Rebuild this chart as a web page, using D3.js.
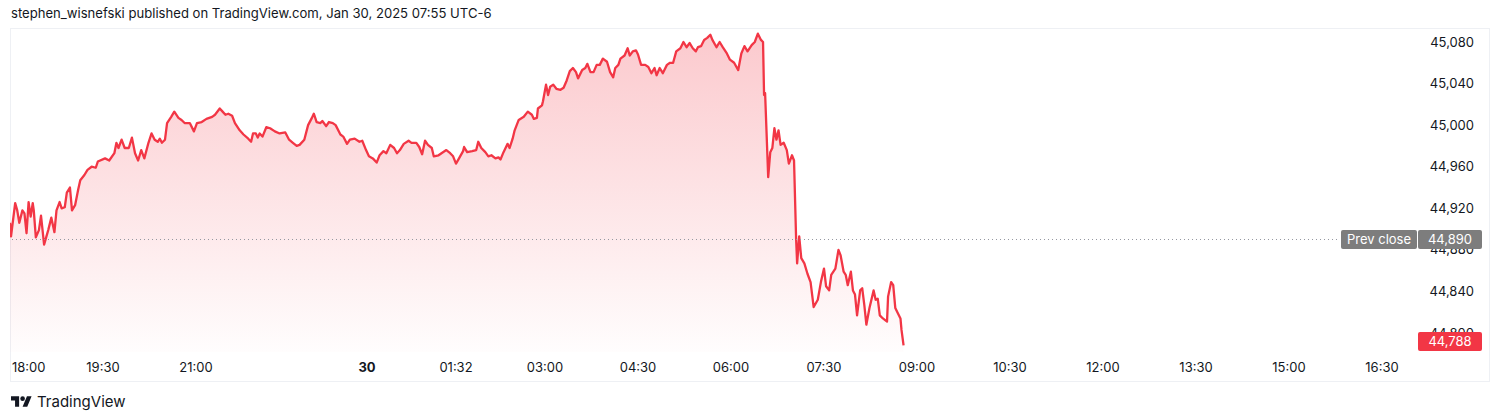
<!DOCTYPE html>
<html>
<head>
<meta charset="utf-8">
<script src="https://cdn.jsdelivr.net/npm/d3@7"></script>
<style>
  html, body { margin: 0; padding: 0; background: #ffffff; }
  svg { display: block; font-family: Inter, "Noto Sans", sans-serif; }
</style>
</head>
<body>
<svg id="chart" width="1500" height="420"></svg>
<script>
// ---- DATA ----
const headerText = "stephen_wisnefski published on TradingView.com, Jan 30, 2025 07:55 UTC-6";
// minutes since 18:00 (Jan 29)
const times = [
  0,1,5,7,9,12,14,16,18,20,
  22,23,25,28,30,33,35,37,40,43,
  45,48,50,53,55,58,60,63,66,68,
  72,75,79,83,85,92,96,101,103,105,
  108,111,115,118,121,124,127,130,134,137,
  140,143,145,147,150,152,156,159,163,166,
  169,174,178,181,186,191,197,200,205,208,
  211,214,218,221,226,230,235,238,240,243,
  245,247,250,254,258,263,268,274,278,282,
  286,289,294,298,302,304,307,311,313,317,
  320,324,327,332,335,339,342,347,352,355,
  359,362,366,370,373,377,380,384,388,391,
  394,398,403,406,411,414,417,420,423,427,
  429,434,437,442,446,449,452,455,459,460,
  463,468,472,474,477,481,484,487,491,494,
  496,499,503,505,508,510,514,519,523,527,
  529,532,533,537,538,541,543,545,548,551,
  555,558,561,564,567,570,572,576,579,581,
  584,587,590,593,596,600,603,606,608,611,
  613,617,620,622,625,628,630,633,637,640,
  643,646,648,651,654,658,661,664,667,671,
  674,677,680,683,686,688,691,694,697,700,
  702,706,709,712,716,719,723,727,730,733,
  736,740,743,746,749,751,752,753,756,758,
  760,762,764,766,768,771,774,776,779,781,
  783,784,786,788,791,794,797,800,804,807,
  810,812,815,817,821,824,826,829,831,833,
  836,838,840,842,845,847,849,851,854,858,
  860,862,864,867,871,872,875,877,879,881,
  884,885,887
];
const values = [
  44906,44893,44925,44918,44906,44918,44915,44896,44926,44912,
  44925,44918,44892,44899,44913,44885,44892,44899,44911,44897,
  44918,44926,44920,44921,44935,44940,44918,44923,44938,44947,
  44952,44957,44960,44959,44965,44968,44966,44973,44983,44978,
  44986,44978,44978,44988,44973,44966,44976,44968,44983,44992,
  44986,44984,44987,44983,44986,45002,45008,45013,45007,45005,
  45002,45002,44994,45002,45003,45006,45008,45010,45016,45013,
  45010,45011,45009,45002,44995,44991,44987,44984,44992,44992,
  44988,44992,44989,44998,44997,44994,44992,44993,44986,44983,
  44980,44981,44986,45000,45007,45011,45003,45002,45004,44999,
  45003,45002,45000,44991,44989,44982,44986,44987,44984,44985,
  44976,44970,44968,44964,44971,44975,44973,44981,44978,44973,
  44976,44982,44985,44983,44983,44979,44972,44985,44981,44978,
  44970,44971,44973,44976,44973,44970,44963,44968,44975,44979,
  44974,44975,44976,44984,44978,44974,44970,44971,44968,44969,
  44967,44974,44982,44978,44987,44995,45005,45008,45013,45010,
  45006,45007,45016,45019,45023,45039,45029,45037,45039,45035,
  45034,45036,45043,45052,45055,45051,45045,45053,45055,45059,
  45051,45051,45058,45058,45064,45061,45051,45046,45055,45058,
  45064,45067,45074,45067,45071,45072,45068,45058,45058,45056,
  45050,45055,45048,45055,45050,45058,45060,45060,45071,45074,
  45080,45075,45079,45074,45071,45075,45076,45082,45084,45087,
  45082,45075,45080,45075,45069,45063,45060,45053,45069,45076,
  45071,45077,45080,45088,45082,45080,45029,45031,44950,44974,
  44978,44997,44986,44995,44981,44983,44976,44963,44971,44966,
  44891,44867,44893,44872,44867,44857,44849,44825,44832,44849,
  44862,44845,44841,44856,44862,44880,44875,44859,44856,44846,
  44859,44841,44837,44817,44841,44843,44827,44808,44824,44841,
  44832,44833,44817,44814,44811,44835,44849,44846,44824,44820,
  44814,44803,44788
];
const xTickTimes = [0,90,180,360,452,540,630,720,810,900,990,1080,1170,1260,1350];
const xTickLabels = ["18:00","19:30","21:00","30","01:32","03:00","04:30","06:00","07:30","09:00","10:30","12:00","13:30","15:00","16:30"];
const boldTicks = ["30"];
const yTicks = [44800,44840,44880,44920,44960,45000,45040,45080];
const prevClose = 44890;
const prevCloseLabel = "Prev close";
const lastPrice = 44788;

// ---- LAYOUT ----
const svg = d3.select("#chart");
const plotLeft = 10, plotRight = 1415, plotTop = 29, plotBottom = 352;
const lineColor = "#f23645";
const textColor = "#131722";

const x = d3.scaleLinear()
  .domain([0, 90, 180, 360, 452, 540, 1380])
  .range([10, 103, 196, 367, 456, 545, 1413]);
const y = d3.scaleLinear().domain([44800, 45080]).range([333, 42]);
const fmt = d3.format(",");

// header
svg.append("text")
  .attr("x", 11).attr("y", 18)
  .attr("font-size", 13.1).attr("fill", textColor)
  .text(headerText);

// frame
svg.append("rect")
  .attr("x", 10.5).attr("y", 28.5).attr("width", 1479).attr("height", 353)
  .attr("fill", "none").attr("stroke", "#eef0f4").attr("stroke-width", 1);

// defs
const defs = svg.append("defs");
const grad = defs.append("linearGradient")
  .attr("id", "areaGrad").attr("gradientUnits", "userSpaceOnUse")
  .attr("x1", 0).attr("x2", 0).attr("y1", 30).attr("y2", plotBottom);
grad.append("stop").attr("offset", "0%").attr("stop-color", lineColor).attr("stop-opacity", 0.27);
grad.append("stop").attr("offset", "100%").attr("stop-color", lineColor).attr("stop-opacity", 0.01);
defs.append("clipPath").attr("id", "plotClip")
  .append("rect").attr("x", plotLeft).attr("y", plotTop)
  .attr("width", plotRight - plotLeft).attr("height", plotBottom - plotTop);

const data = times.map((t, i) => ({ t, v: values[i] }));

const g = svg.append("g").attr("clip-path", "url(#plotClip)");

g.append("path")
  .datum(data)
  .attr("fill", "url(#areaGrad)")
  .attr("d", d3.area().x(d => x(d.t)).y0(plotBottom).y1(d => y(d.v)));

// prev close dotted line
svg.append("line")
  .attr("x1", plotLeft + 2).attr("x2", 1340)
  .attr("y1", Math.round(y(prevClose)) + 0.5).attr("y2", Math.round(y(prevClose)) + 0.5)
  .attr("stroke", "#9598a1").attr("stroke-width", 1)
  .attr("stroke-dasharray", "1 3");

g.append("path")
  .datum(data)
  .attr("fill", "none")
  .attr("stroke", lineColor)
  .attr("stroke-width", 2.3)
  .attr("stroke-linejoin", "round")
  .attr("d", d3.line().x(d => x(d.t)).y(d => y(d.v)));

// y axis labels
svg.append("g").selectAll("text")
  .data(yTicks).join("text")
  .attr("x", 1474).attr("y", d => y(d))
  .attr("dy", "0.35em")
  .attr("text-anchor", "end")
  .attr("font-size", 13).attr("fill", textColor)
  .text(d => fmt(d));

// x axis labels
const xl = svg.append("g").selectAll("text")
  .data(xTickTimes).join("text")
  .attr("y", 372)
  .attr("text-anchor", "middle")
  .attr("font-size", 13).attr("fill", textColor)
  .attr("font-weight", (d, i) => boldTicks.includes(xTickLabels[i]) ? 700 : 400)
  .text((d, i) => xTickLabels[i]);
xl.each(function(d) {
  const w = this.getComputedTextLength();
  this.setAttribute("x", Math.max(x(d), 12 + w / 2));
});

// prev close label
const pcY = y(prevClose);
svg.append("rect").attr("x", 1341).attr("y", pcY - 9.5).attr("width", 76).attr("height", 19)
  .attr("rx", 2).attr("fill", "#7d7d7d");
svg.append("rect").attr("x", 1418).attr("y", pcY - 9.5).attr("width", 64).attr("height", 19)
  .attr("rx", 2).attr("fill", "#7d7d7d");
svg.append("text").attr("x", 1379).attr("y", pcY).attr("dy", "0.35em")
  .attr("text-anchor", "middle").attr("font-size", 13).attr("fill", "#ffffff")
  .text(prevCloseLabel);
svg.append("text").attr("x", 1450).attr("y", pcY).attr("dy", "0.35em")
  .attr("text-anchor", "middle").attr("font-size", 13).attr("fill", "#ffffff")
  .text(fmt(prevClose));

// last price label
const lpY = y(lastPrice);
svg.append("rect").attr("x", 1418).attr("y", lpY - 13.5).attr("width", 64).attr("height", 19)
  .attr("rx", 2).attr("fill", lineColor);
svg.append("text").attr("x", 1450).attr("y", lpY - 4).attr("dy", "0.35em")
  .attr("text-anchor", "middle").attr("font-size", 13).attr("fill", "#ffffff")
  .text(fmt(lastPrice));

// TradingView logo
const logo = svg.append("g").attr("transform", "translate(11,394) scale(0.58)").attr("fill", textColor);
logo.append("path").attr("d", "M14 22H7V11H0V4h14v18zM28 22h-8l7.5-18h8L28 22z");
logo.append("circle").attr("cx", 20).attr("cy", 8).attr("r", 4);
svg.append("text").attr("x", 37).attr("y", 407)
  .attr("font-size", 15).attr("fill", textColor)
  .text("TradingView");
</script>
</body>
</html>
